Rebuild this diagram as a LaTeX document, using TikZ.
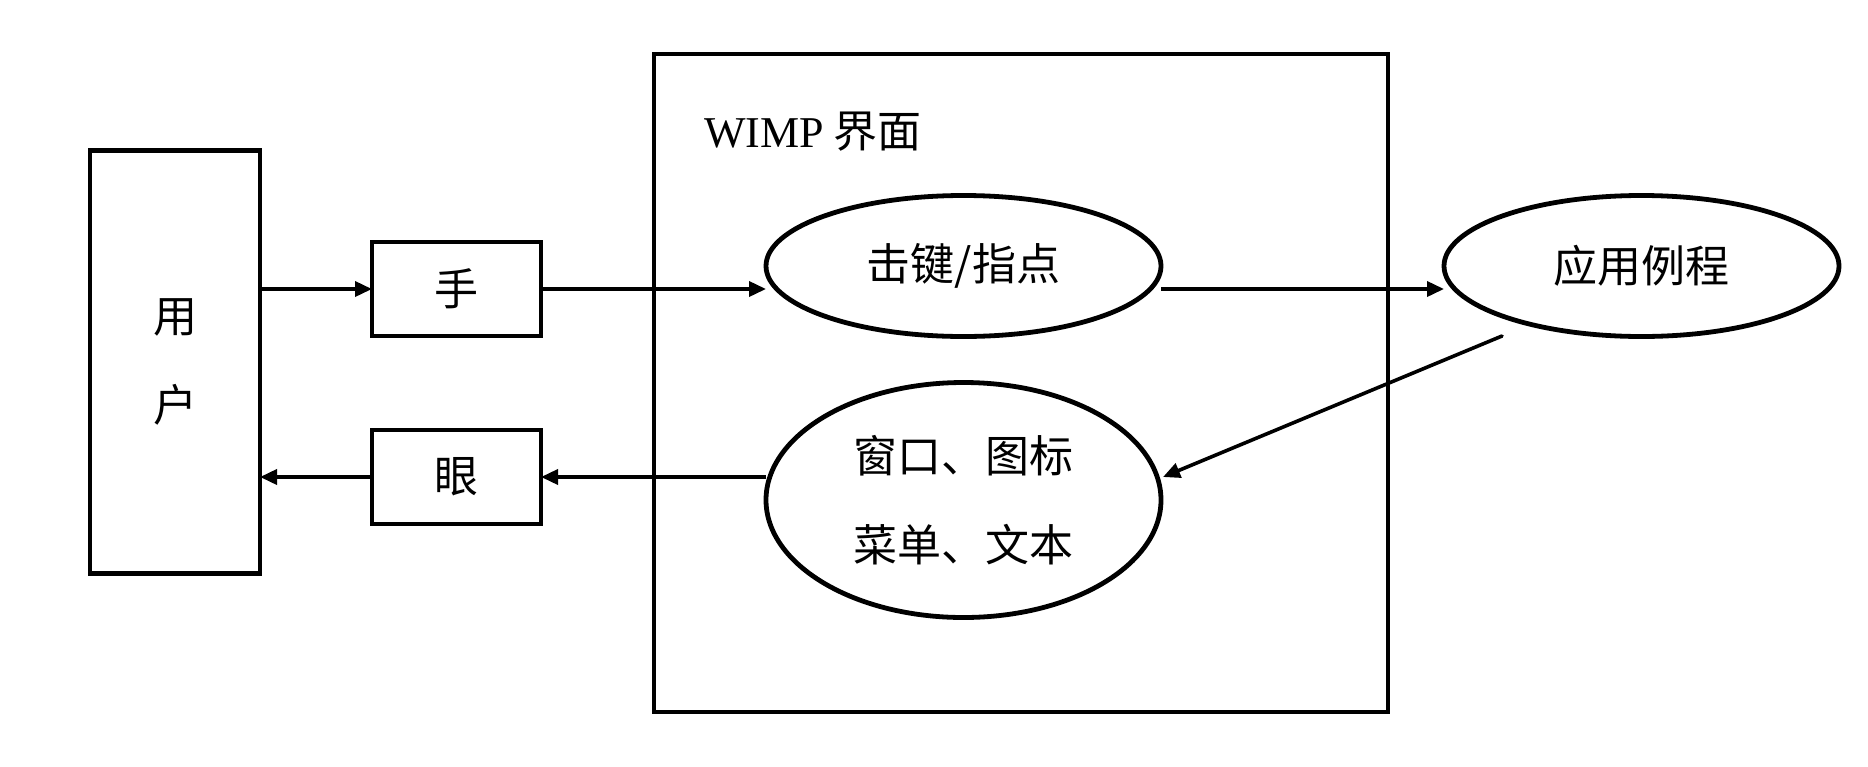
\documentclass[tikz,border=0pt]{standalone}
\usepackage{fontspec}
\setmainfont{Liberation Serif}
\newfontfamily\cjk{Noto Sans CJK SC}
\usetikzlibrary{shapes.geometric,arrows.meta,calc}
\begin{document}
\begin{tikzpicture}[x=1pt,y=-1pt,
  every node/.style={font=\fontsize{44pt}{89pt}\selectfont\cjk, inner sep=0pt, outer sep=0pt},
  rbox/.style={draw, line width=4.8pt, align=center},
  ell/.style={draw, ellipse, line width=4.8pt, align=center},
  conn/.style={line width=3.6pt, -{Triangle[length=17pt,width=15pt]}}
]
\useasboundingbox (0,0) rectangle (1868,766);
\node[rbox, minimum width=734pt, minimum height=658pt] (wimp) at (1021,383) {};
\node[anchor=base west] (wimplabel) at (704,147) {{\rmfamily\fontsize{44pt}{50pt}\selectfont WIMP} 界面};
\node[rbox, minimum width=170pt, minimum height=423pt] (user) at (175,362) {用\\户};
\node[rbox, minimum width=169pt, minimum height=94pt] (hand) at (456.5,289) {手};
\node[rbox, minimum width=169pt, minimum height=94pt] (eye) at (456.5,477) {眼};
\node[ell, minimum width=395pt, minimum height=141pt] (key) at (963.5,266) {击键/指点};
\node[ell, minimum width=395pt, minimum height=141pt] (app) at (1641.5,266) {应用例程};
\node[ell, minimum width=395pt, minimum height=235pt] (win) at (963.5,500) {窗口、图标\\菜单、文本};
\coordinate (dstart) at (1502,336);
\coordinate (dend) at (1163,477);
\draw[conn] (user.east |- hand.west) -- (hand.west);
\draw[conn] (hand.east) -- (key.west |- hand.east);
\draw[conn] (key.east |- hand.east) -- (app.west |- hand.east);
\draw[conn, line cap=round] (dstart) -- (dend);
\draw[conn] (win.west |- eye.east) -- (eye.east);
\draw[conn] (eye.west) -- (user.east |- eye.west);
\end{tikzpicture}
\end{document}
